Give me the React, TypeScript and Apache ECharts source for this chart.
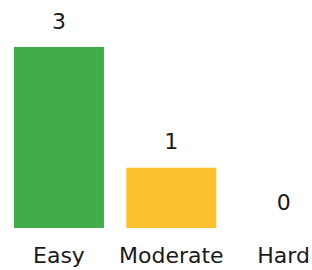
import React, { useEffect, useRef } from "react";
import * as echarts from "echarts";

const categories = ["Easy", "Moderate", "Hard"];
const counts = [3, 1, 0];
const barColors = ["#41ad4a", "#fbc02d", "#e53935"];

export default function App() {
  const ref = useRef<HTMLDivElement>(null);
  useEffect(() => {
    if (!ref.current) return;
    const chart = echarts.init(ref.current, undefined, { renderer: "svg" });
    chart.setOption({
      animation: false,
      backgroundColor: "#ffffff",
      textStyle: { fontFamily: "DejaVu Sans" },
      grid: {
        left: 2.8,
        width: 337,
        top: 47,
        height: 181,
        containLabel: false,
        outerBoundsMode: "none",
      },
      xAxis: {
        type: "category",
        data: categories,
        axisLine: { show: false },
        axisTick: { show: false },
        axisLabel: {
          interval: 0,
          hideOverlap: false,
          color: "#1a1a1a",
          fontSize: 22,
          fontFamily: "DejaVu Sans",
          margin: 16,
          lineHeight: 22,
        },
      },
      yAxis: {
        type: "value",
        min: 0,
        max: 3,
        show: false,
        splitLine: { show: false },
      },
      series: [
        {
          type: "bar",
          barWidth: 90,
          data: counts.map((v, i) => ({ value: v, itemStyle: { color: barColors[i] } })),
          label: {
            show: true,
            position: "top",
            distance: 15,
            color: "#1a1a1a",
            fontSize: 22,
            fontFamily: "DejaVu Sans",
            lineHeight: 22,
          },
        },
      ],
    });
    return () => chart.dispose();
  }, []);
  return (
    <div
      ref={ref}
      style={{ position: "fixed", left: 0, top: 0, width: 312, height: 270 }}
    />
  );
}
